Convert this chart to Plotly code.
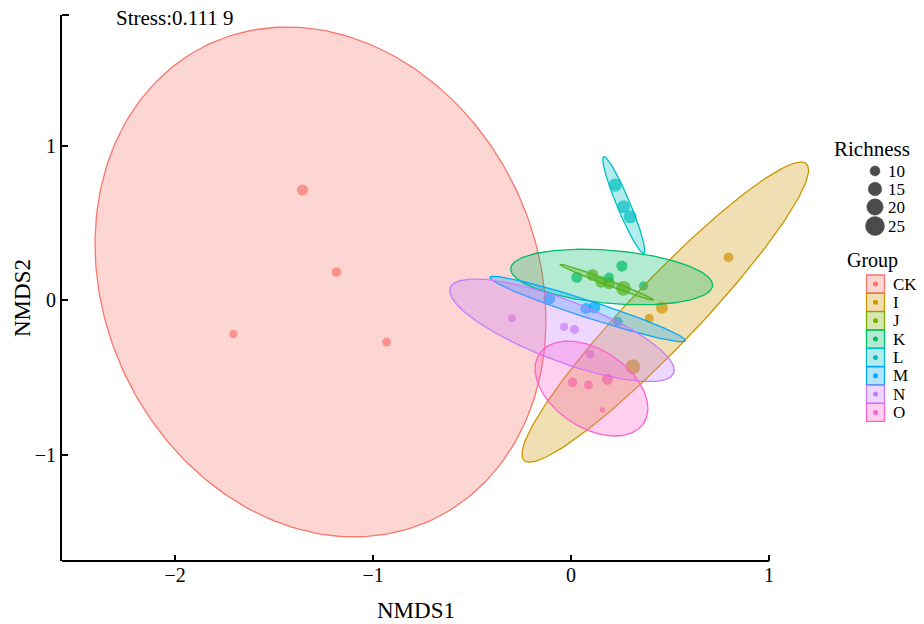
import numpy as np
import plotly.graph_objects as go

# ---------------- data ----------------
groups = ["CK", "I", "J", "K", "L", "M", "N", "O"]
colors = ["#F8766D", "#CD9600", "#7CAE00", "#00BE67", "#00BFC4", "#00A9FF", "#C77CFF", "#FF61CC"]

ck_x = [-1.357, -1.185, -1.706, -0.932]
ck_y = [0.712, 0.181, -0.220, -0.272]
ck_rich = [13, 11, 9, 10]
i_x = [0.796, 0.459, 0.395, 0.312]
i_y = [0.276, -0.050, -0.118, -0.432]
i_rich = [11, 14, 10, 19]
j_x = [0.108, 0.152, 0.192, 0.265]
j_y = [0.162, 0.118, 0.108, 0.076]
j_rich = [14, 14, 14, 19]
k_x = [0.029, 0.192, 0.257, 0.366]
k_y = [0.147, 0.147, 0.220, 0.091]
k_rich = [13, 11, 13, 10]
l_x = [0.223, 0.265, 0.299]
l_y = [0.744, 0.604, 0.539]
l_rich = [16, 16, 16]
m_x = [-0.110, 0.076, 0.118, 0.236]
m_y = [0.010, -0.054, -0.047, -0.140]
m_rich = [14, 13, 14, 11]
n_x = [-0.299, -0.035, 0.017, 0.096]
n_y = [-0.118, -0.173, -0.190, -0.350]
n_rich = [9, 9, 10, 10]
o_x = [0.007, 0.088, 0.184, 0.158]
o_y = [-0.533, -0.550, -0.513, -0.712]
o_rich = [11, 10, 13, 6]

# 95% ellipse summaries per group: centre, half-extent in x / y, correlation
ell_cx = [-1.266, 0.476, 0.181, 0.205, 0.266, 0.084, -0.046, 0.103]
ell_cy = [0.117, -0.078, 0.115, 0.149, 0.615, -0.058, -0.196, -0.573]
ell_rx = [1.139, 0.724, 0.236, 0.510, 0.106, 0.494, 0.567, 0.285]
ell_ry = [1.650, 0.971, 0.116, 0.180, 0.313, 0.212, 0.332, 0.307]
ell_r = [-0.149, 0.947, -0.987, -0.288, -0.940, -0.962, -0.774, -0.417]

richness_breaks = [10, 15, 20, 25]
stress_text = "Stress:0.111 9"

xs = [ck_x, i_x, j_x, k_x, l_x, m_x, n_x, o_x]
ys = [ck_y, i_y, j_y, k_y, l_y, m_y, n_y, o_y]
rs = [ck_rich, i_rich, j_rich, k_rich, l_rich, m_rich, n_rich, o_rich]

FONT = "Liberation Serif"
W, H = 924, 624

X_MIN, X_AXIS_END, X_MAX = -2.572, 1.0, 1.23
Y_MIN, Y_MAX = -1.689, 1.845


def size_of(r):
    return 4.89 * np.sqrt(np.asarray(r, dtype=float)) - 6.46


def rgba(hex_c, a):
    h = hex_c.lstrip("#")
    return "rgba(%d,%d,%d,%.2f)" % (int(h[0:2], 16), int(h[2:4], 16), int(h[4:6], 16), a)


fig = go.Figure()

# points
for g, c, x, y, r in zip(groups, colors, xs, ys, rs):
    fig.add_trace(go.Scatter(x=x, y=y, mode="markers", name=g, showlegend=False,
                             marker=dict(color=c, size=size_of(r), line=dict(width=0))))

# ellipses on top
t = np.linspace(0, 2 * np.pi, 241)
for g, c, cx, cy, rx, ry, rr in zip(groups, colors, ell_cx, ell_cy, ell_rx, ell_ry, ell_r):
    ex = cx + rx * np.cos(t)
    ey = cy + ry * (rr * np.cos(t) + np.sqrt(1 - rr ** 2) * np.sin(t))
    fig.add_trace(go.Scatter(x=ex, y=ey, mode="lines", fill="toself", showlegend=False,
                             fillcolor=rgba(c, 0.30), line=dict(color=c, width=1.3)))

# ---------------- legend (drawn in its own pixel-unit subplot) ----------------
rich_y = [171, 189, 207, 226]
fig.add_trace(go.Scatter(x=[875] * len(richness_breaks), y=rich_y, mode="markers",
                         xaxis="x2", yaxis="y2", showlegend=False,
                         marker=dict(color="#000000", size=size_of(richness_breaks) + 1,
                                     line=dict(width=0.5, color="#000000"))))
grp_y = [284 + 18.35 * i for i in range(len(groups))]
fig.add_trace(go.Scatter(x=[875.5] * len(groups), y=grp_y, mode="markers",
                         xaxis="x2", yaxis="y2", showlegend=False,
                         marker=dict(symbol="square", size=18,
                                     color=[rgba(c, 0.30) for c in colors],
                                     line=dict(color=colors, width=1.3))))
fig.add_trace(go.Scatter(x=[875.5] * len(groups), y=grp_y, mode="markers",
                         xaxis="x2", yaxis="y2", showlegend=False,
                         marker=dict(size=5, color=colors, line=dict(width=0))))

ann = []
ann.append(dict(text="Richness", x=832, y=149, xref="x2", yref="y2", xanchor="left", yanchor="middle",
                showarrow=False, font=dict(family=FONT, size=21, color="black")))
for v, yy in zip(richness_breaks, rich_y):
    ann.append(dict(text=str(v), x=886, y=yy, xref="x2", yref="y2", xanchor="left", yanchor="middle",
                    showarrow=False, font=dict(family=FONT, size=17, color="black")))
ann.append(dict(text="Group", x=845, y=260, xref="x2", yref="y2", xanchor="left", yanchor="middle",
                showarrow=False, font=dict(family=FONT, size=20, color="black")))
for g, yy in zip(groups, grp_y):
    ann.append(dict(text=g, x=891, y=yy, xref="x2", yref="y2", xanchor="left", yanchor="middle",
                    showarrow=False, font=dict(family=FONT, size=17, color="black")))

# titles / stress
ann.append(dict(text=stress_text, x=114 / W, y=1 - 18 / H, xref="paper", yref="paper",
                xanchor="left", yanchor="middle", showarrow=False,
                font=dict(family=FONT, size=21, color="black")))
ann.append(dict(text="NMDS1", x=416 / W, y=1 - 610 / H, xref="paper", yref="paper",
                xanchor="center", yanchor="middle", showarrow=False,
                font=dict(family=FONT, size=23, color="black")))
ann.append(dict(text="NMDS2", x=22 / W, y=1 - 298 / H, xref="paper", yref="paper",
                xanchor="center", yanchor="middle", showarrow=False, textangle=-90,
                font=dict(family=FONT, size=23, color="black")))

px_per_x = (769 - 62) / (X_AXIS_END - X_MIN)
x0p = 62 / W
x1p = (62 + px_per_x * (X_MAX - X_MIN)) / W
y0p, y1p = 1 - 561 / H, 1 - 15 / H

fig.update_layout(
    width=W, height=H,
    margin=dict(l=0, r=0, t=0, b=0),
    paper_bgcolor="white", plot_bgcolor="rgba(0,0,0,0)",
    showlegend=False,
    annotations=ann,
    xaxis=dict(domain=[x0p, x1p], range=[X_MIN, X_MAX], showgrid=False, zeroline=False,
               showline=False,
               ticks="inside", ticklen=6, tickwidth=1.5, tickcolor="black",
               tickvals=[-2, -1, 0, 1], ticktext=["\u22122", "\u22121", "0", "1"],
               tickfont=dict(family=FONT, size=20, color="black"), automargin=False),
    yaxis=dict(domain=[y0p, y1p], range=[Y_MIN, Y_MAX], showgrid=False, zeroline=False,
               showline=True, linecolor="black", linewidth=2, mirror=False,
               ticks="inside", ticklen=6, tickwidth=1.5, tickcolor="black",
               tickvals=[-1, 0, 1], ticktext=["\u22121", "0", "1"],
               tickfont=dict(family=FONT, size=20, color="black"), automargin=False),
    xaxis2=dict(domain=[825 / W, 1], range=[825, 924], visible=False, fixedrange=True),
    yaxis2=dict(domain=[0, 1], range=[624, 0], visible=False, fixedrange=True),
    shapes=[
        dict(type="line", xref="paper", yref="paper", x0=x0p, x1=x0p + 7 / W,
             y0=y1p, y1=y1p, line=dict(color="black", width=2)),
        dict(type="line", xref="x", yref="paper", x0=X_MIN, x1=X_AXIS_END,
             y0=y0p, y1=y0p, line=dict(color="black", width=2)),
    ],
)

fig.write_html("out.html")
